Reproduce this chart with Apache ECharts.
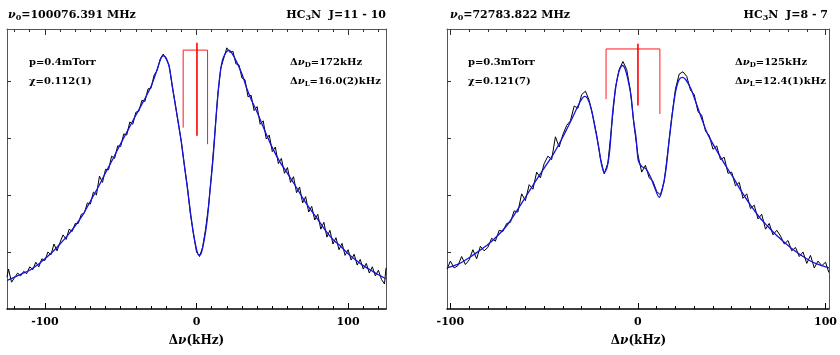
<!DOCTYPE html>
<html>
<head>
<meta charset="utf-8">
<script src="https://cdn.jsdelivr.net/npm/echarts@6/dist/echarts.min.js"></script>
<style>
  html, body { margin: 0; padding: 0; background: #fff; }
  #chart { width: 840px; height: 355px; }
</style>
</head>
<body>
<div id="chart"></div>
<script>
// ---- data ----
const leftRange = [-125, 125];
const rightRange = [-101.8, 101.8];
const yRange = [0, 4.91];
const majorTicks = [-100, 0, 100];
const leftMinorTicks = [-120, -110, -90, -80, -70, -60, -50, -40, -30, -20, -10, 10, 20, 30, 40, 50, 60, 70, 80, 90, 110, 120];
const rightMinorTicks = [-90, -80, -70, -60, -50, -40, -30, -20, -10, 10, 20, 30, 40, 50, 60, 70, 80, 90];
const yTicks = [1, 2, 3, 4];

// HC3N J=11-10 : measured trace (black) and fit (blue)
const leftTrace = [
  [-125, 0.56], [-124, 0.70], [-122, 0.47], [-120, 0.55], [-118, 0.63], [-116, 0.58], [-114, 0.66], [-112, 0.62],
  [-110, 0.74], [-108, 0.69], [-106, 0.82], [-104, 0.74], [-102, 0.88], [-100, 0.85], [-98, 1.00], [-96, 0.95],
  [-94, 1.14], [-92, 1.02], [-90, 1.17], [-88, 1.30], [-86, 1.22], [-84, 1.40], [-82, 1.36], [-80, 1.50],
  [-78, 1.50], [-76, 1.66], [-74, 1.68], [-72, 1.86], [-70, 1.84], [-68, 2.05], [-66, 2.00], [-64, 2.33],
  [-62, 2.22], [-60, 2.45], [-58, 2.44], [-56, 2.68], [-54, 2.64], [-52, 2.86], [-50, 2.85], [-48, 3.07],
  [-46, 3.05], [-44, 3.28], [-42, 3.24], [-40, 3.45], [-38, 3.47], [-36, 3.66], [-34, 3.64], [-32, 3.86],
  [-30, 3.87], [-28, 4.10], [-26, 4.18], [-24, 4.38], [-22, 4.47], [-20, 4.38], [-18, 4.27], [-16, 3.90],
  [-14, 3.60], [-12, 3.25], [-10, 2.94], [-8, 2.52], [-6, 2.14], [-4, 1.66], [-2, 1.32], [0, 1.00],
  [2, 0.92], [4, 1.08], [6, 1.40], [8, 1.82], [10, 2.40], [12, 3.05], [14, 3.74], [16, 4.22],
  [18, 4.40], [20, 4.58], [22, 4.50], [24, 4.52], [26, 4.30], [28, 4.28], [30, 4.05], [32, 4.02],
  [34, 3.72], [36, 3.75], [38, 3.48], [40, 3.55], [42, 3.24], [44, 3.30], [46, 2.98], [48, 3.05],
  [50, 2.76], [52, 2.84], [54, 2.55], [56, 2.64], [58, 2.38], [60, 2.48], [62, 2.22], [64, 2.32],
  [66, 2.04], [68, 2.14], [70, 1.86], [72, 1.97], [74, 1.70], [76, 1.80], [78, 1.56], [80, 1.66],
  [82, 1.40], [84, 1.52], [86, 1.26], [88, 1.38], [90, 1.14], [92, 1.25], [94, 1.04], [96, 1.15],
  [98, 0.94], [100, 1.04], [102, 0.86], [104, 0.96], [106, 0.77], [108, 0.87], [110, 0.70], [112, 0.80],
  [114, 0.63], [116, 0.74], [118, 0.58], [120, 0.68], [122, 0.52], [124, 0.44], [125, 0.72]
];
const leftFit = [
  [-125, 0.50], [-120, 0.56], [-115, 0.62], [-110, 0.68], [-105, 0.77], [-100, 0.88], [-95, 1.00], [-90, 1.14],
  [-85, 1.29], [-80, 1.46], [-75, 1.65], [-70, 1.89], [-65, 2.13], [-60, 2.39], [-55, 2.64], [-50, 2.90],
  [-45, 3.15], [-40, 3.40], [-35, 3.64], [-30, 3.90], [-27, 4.12], [-25, 4.28], [-23, 4.42], [-21.5, 4.44],
  [-20, 4.40], [-18, 4.24], [-16, 3.92], [-14, 3.58], [-12, 3.27], [-10, 2.92], [-8, 2.52], [-6, 2.12],
  [-4, 1.70], [-2, 1.32], [0, 1.05], [1.5, 0.95], [3, 0.97], [5, 1.20], [7, 1.55], [9, 2.10],
  [11, 2.66], [13, 3.40], [15, 4.00], [17, 4.35], [19, 4.48], [21.5, 4.54], [23, 4.50], [26, 4.36],
  [30, 4.12], [33, 3.88], [36, 3.68], [40, 3.45], [45, 3.13], [50, 2.83], [55, 2.58], [60, 2.38],
  [65, 2.17], [70, 1.95], [75, 1.75], [80, 1.57], [85, 1.38], [90, 1.22], [95, 1.10], [100, 0.97],
  [105, 0.86], [110, 0.76], [115, 0.68], [120, 0.60], [125, 0.53]
];
const leftBracket = [[-8.8, 3.18], [-8.8, 4.54], [7.3, 4.54], [7.3, 2.89]];
const leftCenter = [[0.3, 4.67], [0.3, 3.04]];

// HC3N J=8-7
const rightTrace = [
  [-101.8, 0.70], [-100, 0.84], [-98, 0.72], [-96, 0.76], [-94, 0.92], [-92, 0.78], [-90, 0.86], [-88, 1.04],
  [-86, 0.88], [-84, 1.10], [-82, 1.02], [-80, 1.08], [-78, 1.24], [-76, 1.19], [-74, 1.38], [-72, 1.36],
  [-70, 1.50], [-68, 1.52], [-66, 1.72], [-64, 1.70], [-62, 2.02], [-60, 1.90], [-58, 2.18], [-56, 2.10],
  [-54, 2.40], [-52, 2.30], [-50, 2.55], [-48, 2.68], [-46, 2.62], [-44, 3.02], [-42, 2.84], [-40, 3.06],
  [-38, 3.22], [-36, 3.30], [-34, 3.56], [-32, 3.52], [-30, 3.76], [-28, 3.82], [-26, 3.66], [-24, 3.38],
  [-22, 3.05], [-20, 2.64], [-18, 2.37], [-16, 2.56], [-14, 3.22], [-12, 3.88], [-10, 4.20], [-8, 4.34],
  [-6, 4.20], [-4, 3.82], [-2, 3.20], [0, 2.70], [2, 2.40], [4, 2.52], [6, 2.30], [8, 2.24],
  [10, 2.06], [12, 2.00], [14, 2.24], [16, 2.78], [18, 3.36], [20, 3.86], [22, 4.12], [24, 4.16],
  [26, 4.08], [28, 3.84], [30, 3.76], [32, 3.46], [34, 3.40], [36, 3.12], [38, 3.04], [40, 2.80],
  [42, 2.86], [44, 2.62], [46, 2.66], [48, 2.38], [50, 2.40], [52, 2.16], [54, 2.22], [56, 1.94],
  [58, 2.02], [60, 1.76], [62, 1.82], [64, 1.58], [66, 1.66], [68, 1.40], [70, 1.50], [72, 1.30],
  [74, 1.38], [76, 1.28], [78, 1.14], [80, 1.20], [82, 1.02], [84, 1.08], [86, 0.92], [88, 1.00],
  [90, 0.80], [92, 0.94], [94, 0.72], [96, 0.84], [98, 0.76], [100, 0.82], [101.8, 0.64]
];
const rightFit = [
  [-101.8, 0.72], [-95, 0.80], [-90, 0.90], [-85, 1.01], [-80, 1.13], [-75, 1.28], [-70, 1.46], [-65, 1.70],
  [-60, 1.96], [-55, 2.22], [-50, 2.47], [-45, 2.72], [-40, 3.02], [-35, 3.35], [-32, 3.56], [-30, 3.68],
  [-28.5, 3.73], [-27, 3.70], [-25, 3.52], [-23, 3.20], [-21, 2.85], [-19.5, 2.55], [-18, 2.39], [-16.5, 2.48],
  [-15, 2.80], [-13.5, 3.44], [-12, 3.85], [-10.8, 4.08], [-9.5, 4.22], [-8.2, 4.27], [-7, 4.22], [-5.5, 4.05],
  [-3.7, 3.74], [-2.5, 3.35], [-1, 3.00], [0.2, 2.60], [2, 2.50], [4.2, 2.46], [6.9, 2.30], [9, 2.12],
  [11.3, 1.96], [13, 2.10], [14.9, 2.44], [16.6, 2.95], [18.4, 3.44], [20, 3.80], [21.9, 4.02], [23.7, 4.06],
  [25.5, 4.02], [28.1, 3.87], [30.5, 3.66], [33.5, 3.38], [37, 3.08], [42.3, 2.76], [47, 2.50], [51.1, 2.29],
  [55, 2.07], [60, 1.82], [65, 1.60], [68.9, 1.46], [73, 1.32], [77.7, 1.18], [82, 1.06], [86.6, 0.95],
  [91, 0.86], [95.4, 0.79], [101.8, 0.72]
];
const rightBracket = [[-17, 3.68], [-17, 4.56], [11.7, 4.56], [11.7, 3.42]];
const rightCenter = [[0, 4.65], [0, 3.57]];

// ---- styling ----
const FONT = "'DejaVu Serif', serif";

function rich(size) {
  const base = { fontFamily: FONT, fontWeight: 'bold', fill: '#000' };
  return {
    n: Object.assign({}, base, { fontSize: size, fontStyle: 'italic', lineHeight: 14 }),
    s: Object.assign({}, base, { fontSize: Math.round(size * 0.72), lineHeight: 6, verticalAlign: 'bottom' })
  };
}

function label(text, x, y, size, align) {
  return {
    type: 'text', x: x, y: y, silent: true,
    style: {
      text: text, rich: rich(size), fontFamily: FONT, fontSize: size, fontWeight: 'bold',
      fill: '#000', lineHeight: 14, align: align || 'left', verticalAlign: 'middle'
    }
  };
}

function xAxes(g, range, minor) {
  const base = { type: 'value', gridIndex: g, min: range[0], max: range[1], splitLine: { show: false } };
  return [
    Object.assign({}, base, {
      position: 'bottom',
      axisLine: { show: true, onZero: false, lineStyle: { color: '#000', width: 1.5 } },
      axisTick: { inside: true, length: 6, customValues: majorTicks, lineStyle: { color: '#000' } },
      axisLabel: {
        customValues: majorTicks, margin: 8, color: '#000',
        fontFamily: FONT, fontSize: 11, fontWeight: 'bold', formatter: v => String(v)
      }
    }),
    Object.assign({}, base, {
      position: 'bottom',
      axisLine: { show: false, onZero: false },
      axisTick: { inside: true, length: 3, customValues: minor, lineStyle: { color: '#000' } },
      axisLabel: { show: false }
    }),
    Object.assign({}, base, {
      position: 'top',
      axisLine: { show: true, onZero: false, lineStyle: { color: '#555', width: 1 } },
      axisTick: { inside: true, length: 6, customValues: majorTicks, lineStyle: { color: '#333' } },
      axisLabel: { show: false }
    }),
    Object.assign({}, base, {
      position: 'top',
      axisLine: { show: false, onZero: false },
      axisTick: { inside: true, length: 3, customValues: minor, lineStyle: { color: '#333' } },
      axisLabel: { show: false }
    })
  ];
}

function yAxes(g) {
  const base = { type: 'value', gridIndex: g, min: yRange[0], max: yRange[1], splitLine: { show: false } };
  return [
    Object.assign({}, base, {
      position: 'left',
      axisLine: { show: true, onZero: false, lineStyle: { color: '#555', width: 1 } },
      axisTick: { inside: true, length: 4, customValues: yTicks, lineStyle: { color: '#333' } },
      axisLabel: { show: false }
    }),
    Object.assign({}, base, {
      position: 'right',
      axisLine: { show: true, onZero: false, lineStyle: { color: '#555', width: 1 } },
      axisTick: { show: false },
      axisLabel: { show: false }
    })
  ];
}

function panelSeries(xi, yi, trace, fit, bracket, center) {
  const common = { type: 'line', xAxisIndex: xi, yAxisIndex: yi, symbol: 'none', silent: true, animation: false };
  return [
    Object.assign({}, common, { data: trace, lineStyle: { color: '#000', width: 1 } }),
    Object.assign({}, common, { data: fit, smooth: 0.3, lineStyle: { color: '#1414e0', width: 1.3 } }),
    Object.assign({}, common, { data: bracket, lineStyle: { color: '#ff1a1a', width: 1 } }),
    Object.assign({}, common, { data: center, lineStyle: { color: '#ff0000', width: 1.6 } })
  ];
}

const chart = echarts.init(document.getElementById('chart'), null, { renderer: 'canvas' });
chart.setOption({
  animation: false,
  backgroundColor: '#fff',
  grid: [
    { left: 7, top: 29, width: 379, height: 280 },
    { left: 447, top: 29, width: 383, height: 280 }
  ],
  xAxis: xAxes(0, leftRange, leftMinorTicks).concat(xAxes(1, rightRange, rightMinorTicks)),
  yAxis: yAxes(0).concat(yAxes(1)),
  series: panelSeries(0, 0, leftTrace, leftFit, leftBracket, leftCenter)
    .concat(panelSeries(4, 2, rightTrace, rightFit, rightBracket, rightCenter)),
  graphic: [
    label('{n|ν}{s|0}=100076.391 MHz', 8, 15, 11),
    label('HC{s|3}N  J=11 - 10', 386, 15, 11, 'right'),
    label('p=0.4mTorr', 29, 62, 10),
    label('χ=0.112(1)', 29, 81, 10),
    label('Δ{n|ν}{s|D}=172kHz', 290, 62, 10),
    label('Δ{n|ν}{s|L}=16.0(2)kHz', 290, 81, 10),
    label('Δ{n|ν}(kHz)', 196.5, 341, 12, 'center'),

    label('{n|ν}{s|0}=72783.822 MHz', 450, 15, 11),
    label('HC{s|3}N  J=8 - 7', 828, 15, 11, 'right'),
    label('p=0.3mTorr', 468, 62, 10),
    label('χ=0.121(7)', 468, 81, 10),
    label('Δ{n|ν}{s|D}=125kHz', 735, 62, 10),
    label('Δ{n|ν}{s|L}=12.4(1)kHz', 735, 81, 10),
    label('Δ{n|ν}(kHz)', 638.5, 341, 12, 'center')
  ]
});
</script>
</body>
</html>
